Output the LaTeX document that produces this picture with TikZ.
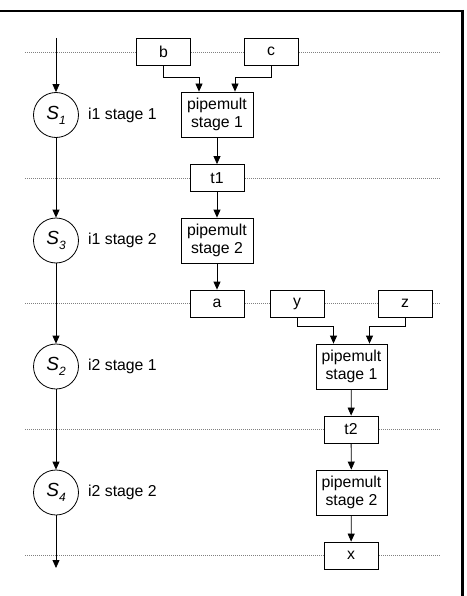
\documentclass[tikz,border=0pt]{standalone}
\usepackage{fontspec}
\setmainfont{Liberation Sans}
\usetikzlibrary{arrows.meta}
\begin{document}
\begin{tikzpicture}[x=1pt,y=-1pt,
  every node/.style={font=\fontsize{15.8}{18}\selectfont, inner sep=0pt},
  var/.style={draw, line width=0.8pt, fill=white, minimum width=54pt, minimum height=27pt},
  mult/.style={draw, line width=0.8pt, fill=white, minimum width=72pt, minimum height=45pt, align=center},
  st/.style={draw, circle, line width=0.8pt, fill=white, minimum size=45pt},
  lbl/.style={anchor=west},
  arr/.style={line width=0.8pt, -{Triangle[width=7pt,length=8pt]}},
  conn/.style={line width=0.8pt},
  dotline/.style={gray, line width=0.7pt, dash pattern=on 1pt off 1pt},
  frame/.style={black, line width=2pt}
]
\useasboundingbox (0,0) rectangle (466,596);
% frame
\draw[frame] (0,11) -- (462,11);
\draw[line width=3pt] (462,10) -- (462,596);
% dotted stage lines
\foreach \yy in {52,178,303.5,429.5,555.5}
  \draw[dotline] (25,\yy) -- (441,\yy);
% state column
\coordinate (top) at (56,38);
\coordinate (bot) at (56,568);
\newcommand{\stlab}[1]{{\fontsize{19}{19}\selectfont\itshape S}\raisebox{-5pt}{\fontsize{12}{12}\selectfont\itshape #1}}
\node[st] (s1) at (56,115) {\stlab{1}};
\node[st] (s3) at (56,240.5) {\stlab{3}};
\node[st] (s2) at (56,366.5) {\stlab{2}};
\node[st] (s4) at (56,492.5) {\stlab{4}};
\node[lbl] (l1) at (88,115) {i1 stage 1};
\node[lbl] (l3) at (88,240.5) {i1 stage 2};
\node[lbl] (l2) at (88,366.5) {i2 stage 1};
\node[lbl] (l4) at (88,492.5) {i2 stage 2};
\draw[arr] (top) -- (s1);
\draw[arr] (s1) -- (s3);
\draw[arr] (s3) -- (s2);
\draw[arr] (s2) -- (s4);
\draw[arr] (s4) -- (bot);
% first multiplication
\node[var] (b) at (163.5,51.5) {b};
\node[var] (c) at (271,51.5) {c};
\node[mult] (pm1) at (217,114.5) {pipemult\\stage 1};
\node[var] (t1) at (217,178) {t1};
\node[mult] (pm2) at (217,240.5) {pipemult\\stage 2};
\node[var] (a) at (217,303.5) {a};
\draw[arr] (b.south) -- ++(0,12) -| ([xshift=-18pt]pm1.north);
\draw[arr] (c.south) -- ++(0,12) -| ([xshift=18pt]pm1.north);
\draw[arr] (pm1) -- (t1);
\draw[arr] (t1) -- (pm2);
\draw[arr] (pm2) -- (a);
% second multiplication
\node[var] (y) at (297,303.5) {y};
\node[var] (z) at (405,303.5) {z};
\node[mult, minimum width=71pt] (pm3) at (351.5,366.5) {pipemult\\stage 1};
\node[var] (t2) at (351,429.5) {t2};
\node[mult, minimum width=71pt] (pm4) at (351.5,492.5) {pipemult\\stage 2};
\node[var] (x) at (351,555.5) {x};
\draw[arr] (y.south) -- ++(0,9) -| ([xshift=-18pt]pm3.north);
\draw[arr] (z.south) -- ++(0,9) -| ([xshift=18pt]pm3.north);
\draw[arr] (pm3) -- (t2);
\draw[arr] (t2) -- (pm4);
\draw[arr] (pm4) -- (x);
\end{tikzpicture}
\end{document}
